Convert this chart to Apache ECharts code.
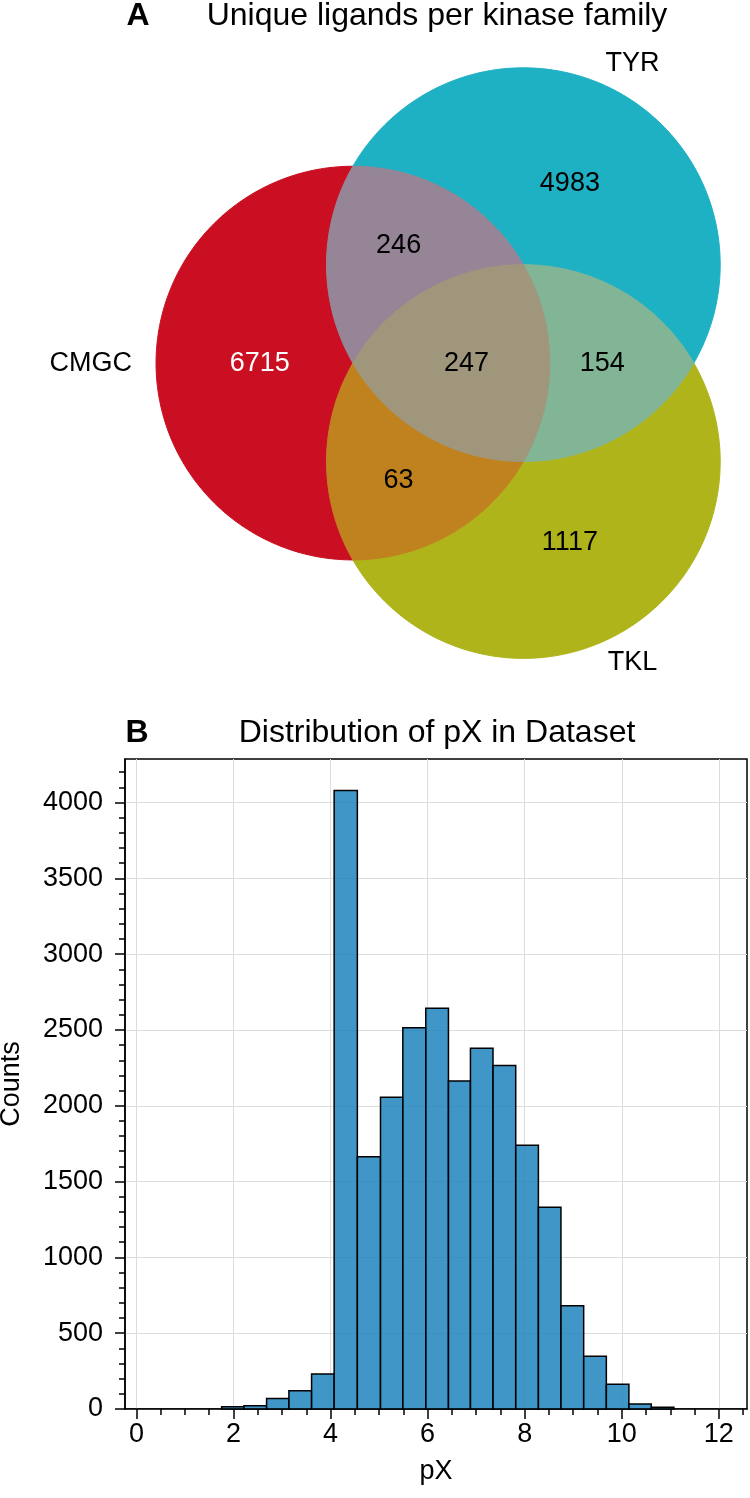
<!DOCTYPE html>
<html><head><meta charset="utf-8">
<script src="https://cdn.jsdelivr.net/npm/echarts@6/dist/echarts.min.js"></script>
<style>html,body{margin:0;padding:0;background:#fff}#c{width:750px;height:1498px}</style>
</head><body><div id="c"></div>
<script>
// ---------- Panel A data ----------
const vennTitle = 'Unique ligands per kinase family';
const vennSets = ['CMGC', 'TYR', 'TKL'];
const vennRegions = ['100', '010', '001', '110', '101', '011', '111'];
const vennCounts = [6715, 4983, 1117, 246, 63, 154, 247];

// ---------- Panel B data ----------
const histTitle = 'Distribution of pX in Dataset';
const pxBinEdges = [1.756, 2.215, 2.682, 3.142, 3.609, 4.074, 4.552, 5.029, 5.489, 5.962, 6.429,
                    6.882, 7.347, 7.815, 8.282, 8.747, 9.215, 9.682, 10.147, 10.608, 11.074];
const pxCounts = [15, 22, 70, 121, 231, 4079, 1664, 2056, 2515, 2643, 2164,
                  2379, 2265, 1739, 1330, 681, 348, 163, 33, 11];
const xTickValues = [0, 2, 4, 6, 8, 10, 12];
const yTickValues = [0, 500, 1000, 1500, 2000, 2500, 3000, 3500, 4000];

// ---------- layout / style ----------
const FONT = '"Liberation Sans", Arial, Helvetica, sans-serif';
const S3 = Math.sqrt(3);
// Venn layout in units of circle radius (equal circles, centres on an equilateral triangle of side 1)
const vennCenters = [[-1 / S3, 0], [1 / (2 * S3), 0.5], [1 / (2 * S3), -0.5]];
const vennRadius = [1, 1, 1];
const setLabelPos = [[-1.909, 0], [0.843, 1.52], [0.843, -1.52]];
const regionColors = {
  '100': '#c90f21', '010': '#1eb0c3', '001': '#afb41b',
  '110': '#968596', '101': '#c0811f', '011': '#81b596', '111': '#9f967b'
};
const regionTextColors = {'100': '#ffffff'};
const regionBoundary = {
  '100': [[0, '01o', '02o'], [2, '02o', '12i'], [1, '12i', '01o']],
  '010': [[1, '01o', '12o'], [2, '12o', '02i'], [0, '02i', '01o']],
  '001': [[2, '02o', '12o'], [1, '12o', '01i'], [0, '01i', '02o']],
  '110': [[0, '01o', '02i'], [2, '02i', '12i'], [1, '12i', '01o']],
  '101': [[0, '02o', '01i'], [1, '01i', '12i'], [2, '12i', '02o']],
  '011': [[1, '12o', '01i'], [0, '01i', '02i'], [2, '02i', '12o']],
  '111': [[0, '01i', '02i'], [2, '02i', '12i'], [1, '12i', '01i']]
};

function pairPoints(c1, r1, c2, r2) {
  const dx = c2[0] - c1[0], dy = c2[1] - c1[1], d = Math.hypot(dx, dy);
  const a = (d * d + r1 * r1 - r2 * r2) / (2 * d);
  const h = Math.sqrt(Math.max(r1 * r1 - a * a, 0));
  const mx = c1[0] + a * dx / d, my = c1[1] + a * dy / d;
  return [[mx - h * dy / d, my + h * dx / d], [mx + h * dy / d, my - h * dx / d]];
}
function intersections(C, R) {
  const res = {};
  [[0, 1, 2], [0, 2, 1], [1, 2, 0]].forEach(([i, j, k]) => {
    const pp = pairPoints(C[i], R[i], C[j], R[j]);
    const d0 = Math.hypot(pp[0][0] - C[k][0], pp[0][1] - C[k][1]);
    const d1 = Math.hypot(pp[1][0] - C[k][0], pp[1][1] - C[k][1]);
    res['' + i + j + 'i'] = d0 < d1 ? pp[0] : pp[1];
    res['' + i + j + 'o'] = d0 < d1 ? pp[1] : pp[0];
  });
  return res;
}
function arcPoints(C, R, i, p, q, m, out) {
  const c = C[i], r = R[i];
  const t1 = Math.atan2(p[1] - c[1], p[0] - c[0]);
  const t2 = Math.atan2(q[1] - c[1], q[0] - c[0]);
  let d = t2 - t1;
  while (d <= 0) d += 2 * Math.PI;
  while (d > 2 * Math.PI) d -= 2 * Math.PI;
  const ok = (delta) => {
    const tm = t1 + delta / 2;
    const x = c[0] + r * Math.cos(tm), y = c[1] + r * Math.sin(tm);
    for (let j = 0; j < 3; j++) {
      if (j === i) continue;
      const inside = Math.hypot(x - C[j][0], y - C[j][1]) < R[j];
      if (inside !== (m[j] === 1)) return false;
    }
    return true;
  };
  const delta = ok(d) ? d : d - 2 * Math.PI;
  const N = Math.max(8, Math.ceil(Math.abs(delta) * 60));
  for (let s = 0; s < N; s++) {
    const t = t1 + delta * s / N;
    out.push([c[0] + r * Math.cos(t), c[1] + r * Math.sin(t)]);
  }
}
function regionLabelPos(m) {
  const g = [0, 0];
  vennCenters.forEach(c => { g[0] += c[0] / 3; g[1] += c[1] / 3; });
  const n = m[0] + m[1] + m[2];
  if (n === 3) return g;
  let dir, f;
  if (n === 1) { const i = m.indexOf(1); dir = [vennCenters[i][0] - g[0], vennCenters[i][1] - g[1]]; f = 1.05; }
  else { const k = m.indexOf(0); dir = [g[0] - vennCenters[k][0], g[1] - vennCenters[k][1]]; f = 0.69; }
  const L = Math.hypot(dir[0], dir[1]);
  return [g[0] + dir[0] / L * f, g[1] + dir[1] / L * f];
}

const chart = echarts.init(document.getElementById('c'), null, {renderer: 'canvas'});
const titleStyle = (w) => ({fontSize: 32, fontWeight: w, fontFamily: FONT, color: '#000'});
const plain = (v) => String(v);
const option = {
  animation: false,
  backgroundColor: '#fff',
  title: [
    {text: 'A', left: 138, top: 0, textAlign: 'center', padding: 0, textStyle: titleStyle('bold')},
    {text: vennTitle, left: 437, top: 0, textAlign: 'center', padding: 0, textStyle: titleStyle('normal')},
    {text: 'B', left: 137, top: 717, textAlign: 'center', padding: 0, textStyle: titleStyle('bold')},
    {text: histTitle, left: 437, top: 717, textAlign: 'center', padding: 0, textStyle: titleStyle('normal')}
  ],
  grid: [
    {left: 0, right: 0, top: 0, height: 700, show: false, outerBoundsMode: 'none'},
    {left: 125, right: 3, top: 759, bottom: 89, show: true, borderColor: '#000', borderWidth: 1.5,
     backgroundColor: 'transparent', outerBoundsMode: 'none'}
  ],
  xAxis: [
    {gridIndex: 0, type: 'value', min: -2.37, max: 1.44, show: false},
    {gridIndex: 1, type: 'value', min: -0.235, max: 12.58, splitNumber: 6,
     name: 'pX', nameLocation: 'middle', nameGap: 49,
     nameTextStyle: {fontSize: 27, color: '#000', fontFamily: FONT},
     axisLine: {show: true, onZero: false, lineStyle: {color: '#000', width: 1.5}},
     axisTick: {show: true, inside: false, length: 10, customValues: xTickValues, lineStyle: {color: '#000', width: 1.5}},
     minorTick: {show: true, splitNumber: 4, length: 6, lineStyle: {color: '#000', width: 1.5}},
     axisLabel: {show: true, customValues: xTickValues, formatter: plain, margin: 12, fontSize: 27, color: '#000', fontFamily: FONT},
     splitLine: {show: true, lineStyle: {color: '#dcdcdc', width: 1}},
     minorSplitLine: {show: false}}
  ],
  yAxis: [
    {gridIndex: 0, type: 'value', min: -1.711, max: 1.844, show: false},
    {gridIndex: 1, type: 'value', min: 0, max: 4287, interval: 500,
     name: 'Counts', nameLocation: 'middle', nameGap: 100, nameRotate: 90,
     nameTextStyle: {fontSize: 27, color: '#000', fontFamily: FONT},
     axisLine: {show: true, onZero: false, lineStyle: {color: '#000', width: 1.5}},
     axisTick: {show: true, inside: false, length: 10, customValues: yTickValues, lineStyle: {color: '#000', width: 1.5}},
     minorTick: {show: true, splitNumber: 5, length: 6, lineStyle: {color: '#000', width: 1.5}},
     axisLabel: {show: true, customValues: yTickValues, formatter: plain, margin: 22, fontSize: 27, color: '#000', fontFamily: FONT},
     splitLine: {show: true, lineStyle: {color: '#dcdcdc', width: 1}},
     minorSplitLine: {show: false}}
  ],
  series: [
    {
      type: 'custom', name: 'venn', xAxisIndex: 0, yAxisIndex: 0,
      data: vennRegions.map((code, i) => [i, vennCounts[i]]),
      encode: {x: -1, y: -1},
      renderItem: function (params, api) {
        const idx = api.value(0);
        const code = vennRegions[idx];
        const m = code.split('').map(Number);
        const C = vennCenters.map(c => api.coord(c));
        const unitPx = api.size([1, 0])[0];
        const R = vennRadius.map(r => r * unitPx);
        const P = intersections(C, R);
        const pts = [];
        regionBoundary[code].forEach(([ci, a, b]) => arcPoints(C, R, ci, P[a], P[b], m, pts));
        const lp = api.coord(regionLabelPos(m));
        const col = regionColors[code];
        return {type: 'group', children: [
          {type: 'polygon', shape: {points: pts}, style: {fill: col, stroke: col, lineWidth: 1}},
          {type: 'text', z2: 10, style: {text: String(api.value(1)), x: lp[0], y: lp[1],
            fill: regionTextColors[code] || '#000', fontSize: 27, fontFamily: FONT,
            align: 'center', verticalAlign: 'middle', textAlign: 'center', textVerticalAlign: 'middle'}}
        ]};
      }
    },
    {
      type: 'custom', name: 'sets', xAxisIndex: 0, yAxisIndex: 0,
      data: vennSets.map((s, i) => [i]),
      encode: {x: -1, y: -1},
      renderItem: function (params, api) {
        const i = api.value(0);
        const p = api.coord(setLabelPos[i]);
        return {type: 'text', style: {text: vennSets[i], x: p[0], y: p[1], fill: '#000', fontSize: 27, fontFamily: FONT,
          align: 'center', verticalAlign: 'middle', textAlign: 'center', textVerticalAlign: 'middle'}};
      }
    },
    {
      type: 'custom', name: 'pX', xAxisIndex: 1, yAxisIndex: 1,
      data: pxCounts.map((c, i) => [pxBinEdges[i], pxBinEdges[i + 1], c]),
      encode: {x: [0, 1], y: 2},
      renderItem: function (params, api) {
        const p0 = api.coord([api.value(0), api.value(2)]);
        const p1 = api.coord([api.value(1), 0]);
        return {type: 'rect', shape: {x: p0[0], y: p0[1], width: p1[0] - p0[0], height: p1[1] - p0[1]},
          style: {fill: 'rgba(32,132,190,0.85)', stroke: '#000', lineWidth: 1.5}};
      }
    }
  ]
};
chart.setOption(option);
</script></body></html>
